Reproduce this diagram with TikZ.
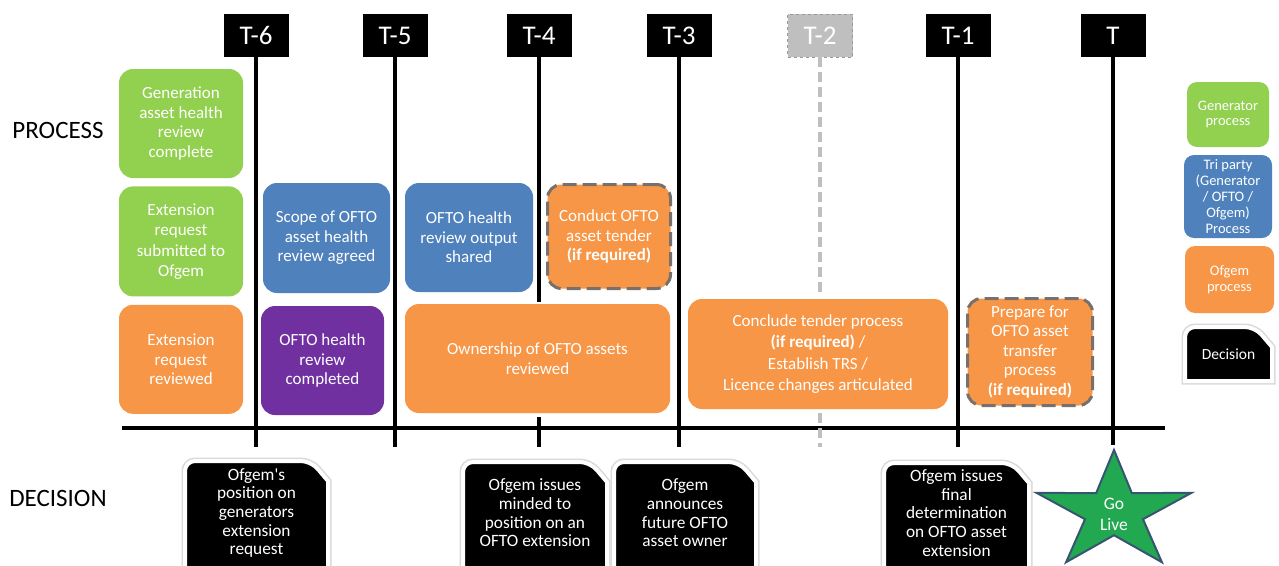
\documentclass[tikz,border=0pt]{standalone}
\usepackage{fontspec}
\setmainfont{Carlito}
\usetikzlibrary{positioning}

\definecolor{gengreen}{RGB}{146,208,80}
\definecolor{triblue}{RGB}{79,129,189}
\definecolor{ofgorange}{RGB}{247,150,70}
\definecolor{ofgpurple}{RGB}{112,48,160}
\definecolor{dashgrey}{RGB}{120,112,108}
\definecolor{tickgrey}{RGB}{191,191,191}
\definecolor{stargreen}{RGB}{34,168,80}
\definecolor{staredge}{RGB}{55,85,112}

\tikzset{
  procbox/.style={rounded corners=14pt, text=white, align=center, inner sep=2pt,
    minimum width=124pt, minimum height=109pt, font=\fontsize{17}{19.5}\selectfont},
  genbox/.style={procbox, fill=gengreen},
  tribox/.style={procbox, fill=triblue},
  ofgbox/.style={procbox, fill=ofgorange},
  purplebox/.style={procbox, fill=ofgpurple},
  ifreq/.style={draw=dashgrey, line width=3pt, dash pattern=on 14pt off 6pt},
  legbox/.style={procbox, rounded corners=10pt, font=\fontsize{14.5}{15.8}\selectfont},
  tickbox/.style={fill=black, text=white, minimum width=65pt, minimum height=43pt,
    inner sep=0pt, font=\fontsize{27}{28}\selectfont},
  tickopt/.style={fill=tickgrey, draw=black!40, dashed, thin},
  timeline/.style={line width=4pt, black},
  optline/.style={line width=4pt, tickgrey, dash pattern=on 10pt off 5pt},
  decision/.style={text=white, align=center, font=\fontsize{17.3}{18.7}\selectfont},
  rowlabel/.style={font=\fontsize{25}{26}\selectfont},
  gostar/.style={fill=stargreen, draw=staredge, line width=2pt, line join=miter}
}

% black decision card: rounded top left, clipped top right
\newcommand{\decisionshape}[4]{%
  \draw[black!15, line width=7pt] (#1,#4) [rounded corners=10pt] -- (#1,#3) -- ({#2-17},#3) [sharp corners] -- (#2,{#3+20}) -- (#2,#4) -- cycle;
  \draw[white, line width=4pt, fill=black] (#1,#4) [rounded corners=10pt] -- (#1,#3) -- ({#2-17},#3) [sharp corners] -- (#2,{#3+20}) -- (#2,#4) -- cycle;
}

\begin{document}
\begin{tikzpicture}[x=1pt, y=-1pt]
  \useasboundingbox (0,0) rectangle (1279,565);
  \fill[white] (0,0) rectangle (1279,565);

  % row labels
  \node[rowlabel] (process) at (58,130) {PROCESS};
  \node[rowlabel] (decide) at (58,498) {DECISION};

  % process boxes
  \node[genbox] (genhealth) at (181,123.5) {Generation\\asset health\\review\\complete};
  \node[genbox, minimum height=110pt, below=8pt of genhealth, font=\fontsize{17}{20.5}\selectfont] (extsub) {Extension\\request\\submitted to\\Ofgem};
  \node[ofgbox, below=8pt of extsub] (extrev) {Extension\\request\\reviewed};
  \node[tribox, minimum width=127pt, minimum height=110pt] (scope) at (326.5,238) {Scope of OFTO\\asset health\\review agreed};
  \node[purplebox, minimum width=123pt] (ofthealth) at (322.5,360.5) {OFTO health\\review\\completed};
  \node[tribox, minimum width=128pt] (outshared) at (469,237.5) {OFTO health\\review output\\shared};
  \node[ofgbox, ifreq, minimum width=123pt, minimum height=104pt] (tender) at (609,236.5) {Conduct OFTO\\asset tender\\\textbf{(if required)}};
  \node[ofgbox, minimum width=265pt] (ownership) at (537.5,358.5) {Ownership of OFTO assets\\reviewed};
  \node[ofgbox, minimum width=260pt, minimum height=110pt, font=\fontsize{17}{21.5}\selectfont] (conclude) at (818,354) {Conclude tender process\\\textbf{(if required)} /\\Establish TRS /\\Licence changes articulated};
  \node[ofgbox, ifreq, minimum width=125pt, minimum height=107pt] (prepare) at (1030,352) {Prepare for\\OFTO asset\\transfer\\process\\\textbf{(if required)}};

  % legend
  \node[legbox, fill=gengreen, minimum width=82pt, minimum height=65pt] (leggen) at (1228,114.5) {Generator\\process};
  \node[legbox, fill=triblue, minimum width=88pt, minimum height=83pt] (legtri) at (1228,196.5) {Tri party\\(Generator\\/ OFTO /\\Ofgem)\\Process};
  \node[legbox, fill=ofgorange, minimum width=89pt, minimum height=67pt] (legofg) at (1229.5,279.5) {Ofgem\\process};
  \decisionshape{1185}{1272}{327}{381}
  \node[decision, font=\fontsize{15.5}{17}\selectfont] (legdec) at (1228.5,354) {Decision};

  % time axis
  \coordinate (axisL) at (122,428);
  \coordinate (axisR) at (1165,428);
  \coordinate (tickend) at (0,447);
  \coordinate (startop) at (1114,450);
  \draw[timeline] (axisL) -- (axisR);

  \foreach \n/\x/\t in {t6/256/T-6, t5/395/T-5, t4/539/T-4, t3/679/T-3, t1/958/T-1, t0/1113/T}
    \node[tickbox] (\n) at (\x,35.5) {\t};
  \node[tickbox, tickopt] (t2) at (820,35.5) {T-2};

  \foreach \n in {t6, t5, t3, t1}
    \draw[timeline] (\n.south) -- (\n.south |- tickend);
  \draw[timeline] (t4.south) -- ([yshift=2pt]t4.south |- ownership.north);
  \draw[timeline] ([yshift=-4pt]t4.south |- ownership.south) -- (t4.south |- tickend);
  \draw[timeline] (t0.south) -- ([yshift=5pt]t0.south |- startop);
  \draw[optline] (t2.south) -- ([yshift=6pt]t2.south |- conclude.north);
  \draw[optline] ([yshift=-4pt]t2.south |- conclude.south) -- (t2.south |- tickend);

  % decisions
  \decisionshape{185}{328}{461}{590}
  \node[decision] (dec1) at (256.5,513) {Ofgem\textquotesingle s\\position on\\generators\\extension\\request};
  \decisionshape{463}{607}{462}{590}
  \node[decision] (dec2) at (535,513) {Ofgem issues\\minded to\\position on an\\OFTO extension};
  \decisionshape{614}{756}{462}{590}
  \node[decision] (dec3) at (685,513) {Ofgem\\announces\\future OFTO\\asset owner};
  \decisionshape{884}{1029}{463}{590}
  \node[decision] (dec4) at (956.5,513) {Ofgem issues\\final\\determination\\on OFTO asset\\extension};

  % go live star
  \draw[gostar] (1114,450) -- (1131.9,493.2) -- (1191.5,492.8) -- (1143,519.2) -- (1161.9,562.2)
    -- (1114,535.2) -- (1066.1,562.2) -- (1085,519.2) -- (1036.5,492.8) -- (1096.1,493.2) -- cycle;
  \node[decision, font=\fontsize{17.5}{21}\selectfont] (golive) at (1114,514) {Go\\Live};
\end{tikzpicture}
\end{document}
